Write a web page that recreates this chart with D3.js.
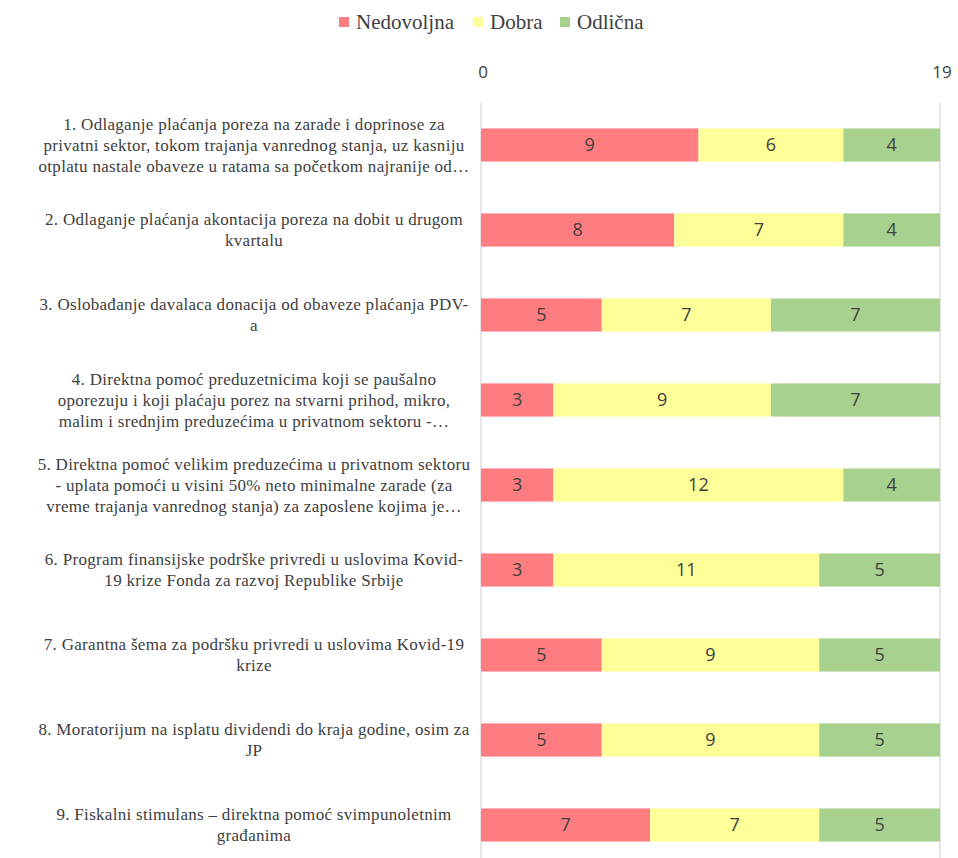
<!DOCTYPE html>
<html>
<head>
<meta charset="utf-8">
<script src="https://cdn.jsdelivr.net/npm/d3@7"></script>
<style>
  body { margin: 0; background: #fff; }
</style>
</head>
<body>
<svg id="chart"></svg>
<script>
  // chart data
  const categories = [
    ["1. Odlaganje plaćanja poreza na zarade i doprinose za", "privatni sektor, tokom trajanja vanrednog stanja, uz kasniju", "otplatu nastale obaveze u ratama sa početkom najranije od…"],
    ["2. Odlaganje plaćanja akontacija poreza na dobit u drugom", "kvartalu"],
    ["3. Oslobađanje davalaca donacija od obaveze plaćanja PDV-", "a"],
    ["4. Direktna pomoć preduzetnicima koji se paušalno", "oporezuju i koji plaćaju porez na stvarni prihod, mikro,", "malim i srednjim preduzećima u privatnom sektoru -…"],
    ["5. Direktna pomoć velikim preduzećima u privatnom sektoru", "- uplata pomoći u visini 50% neto minimalne zarade (za", "vreme trajanja vanrednog stanja) za zaposlene kojima je…"],
    ["6. Program finansijske podrške privredi u uslovima Kovid-", "19 krize Fonda za razvoj Republike Srbije"],
    ["7. Garantna šema za podršku privredi u uslovima Kovid-19", "krize"],
    ["8. Moratorijum na isplatu dividendi do kraja godine, osim za", "JP"],
    ["9. Fiskalni stimulans – direktna pomoć svimpunoletnim", "građanima"]
  ];
  const seriesNames = ["Nedovoljna", "Dobra", "Odlična"];
  const nedovoljna = [9, 8, 5, 3, 3, 3, 5, 5, 7];
  const dobra = [6, 7, 7, 9, 12, 11, 9, 9, 7];
  const odlicna = [4, 4, 7, 7, 4, 5, 5, 5, 5];
  const axisTicks = [0, 19];

  const colors = ["#FF7C80", "#FFFF99", "#A9D18E"];

  const W = 958, H = 858;
  const svg = d3.select("#chart").attr("width", W).attr("height", H);

  const x = d3.scaleLinear().domain([0, 19]).range([481, 940]);
  const y = d3.scaleBand().domain(d3.range(categories.length))
    .range([102.5, 867.5]).paddingInner(0.61).paddingOuter(0.305);

  // gridlines
  svg.append("g").selectAll("line").data(axisTicks).enter().append("line")
    .attr("x1", d => x(d)).attr("x2", d => x(d))
    .attr("y1", 103).attr("y2", H)
    .attr("stroke", "#D9D9D9").attr("stroke-width", 1.3);

  // top axis labels
  svg.append("g").selectAll("text").data(axisTicks).enter().append("text")
    .attr("x", d => x(d) + 2).attr("y", 78)
    .attr("text-anchor", "middle")
    .attr("font-family", "Open Sans, sans-serif").attr("font-size", 17)
    .attr("fill", "#404040")
    .text(d => d);

  const rows = categories.map((c, i) => ({ i, vals: [nedovoljna[i], dobra[i], odlicna[i]] }));

  const row = svg.append("g").selectAll("g").data(rows).enter().append("g");

  row.each(function (d) {
    const g = d3.select(this);
    let start = 0;
    d.vals.forEach((v, k) => {
      g.append("rect")
        .attr("x", x(start)).attr("width", x(start + v) - x(start))
        .attr("y", y(d.i)).attr("height", y.bandwidth())
        .attr("fill", colors[k]);
      g.append("text")
        .attr("x", (x(start) + x(start + v)) / 2)
        .attr("y", y(d.i) + y.bandwidth() / 2)
        .attr("dy", "0.36em")
        .attr("text-anchor", "middle")
        .attr("font-family", "Open Sans, sans-serif").attr("font-size", 18)
        .attr("fill", "#404040")
        .text(v);
      start += v;
    });
  });

  // category labels
  const lineH = 21;
  svg.append("g").selectAll("text").data(categories).enter().append("text")
    .attr("text-anchor", "middle")
    .attr("font-family", "Liberation Serif, serif").attr("font-size", 17)
    .attr("letter-spacing", 0.3)
    .attr("fill", "#404040")
    .each(function (lines, i) {
      const cy = y(i) + y.bandwidth() / 2;
      const top = cy - (lines.length - 1) * lineH / 2;
      d3.select(this).selectAll("tspan").data(lines).enter().append("tspan")
        .attr("x", 254)
        .attr("y", (l, j) => top + j * lineH)
        .attr("dy", "0.35em")
        .text(l => l);
    });

  // legend
  const legendX = [339, 473, 560];
  const legend = svg.append("g").selectAll("g").data(seriesNames).enter().append("g")
    .attr("transform", (d, i) => `translate(${legendX[i]}, 17)`);
  legend.append("rect").attr("width", 10).attr("height", 10)
    .attr("fill", (d, i) => colors[i]);
  legend.append("text").attr("x", 17).attr("y", 5).attr("dy", "0.35em")
    .attr("font-family", "Liberation Serif, serif").attr("font-size", 21)
    .attr("fill", "#404040")
    .text(d => d);
</script>
</body>
</html>
